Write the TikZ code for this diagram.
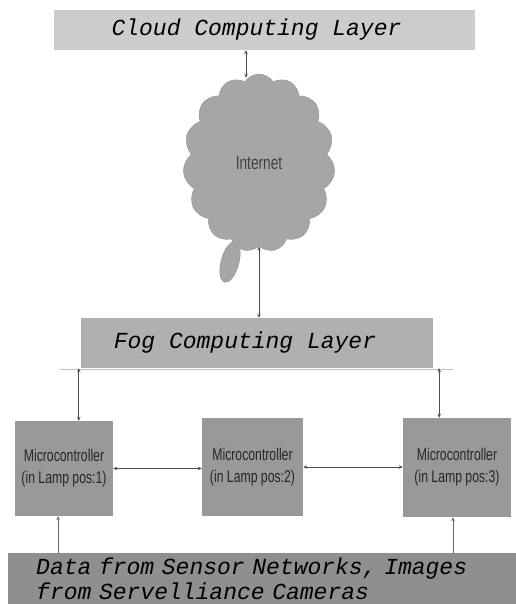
\documentclass[tikz,border=0pt]{standalone}
\usepackage{fontspec}
\setmonofont{Liberation Mono}
\newfontfamily\narrowsans[FakeStretch=0.72]{Liberation Sans}
\usetikzlibrary{shapes.symbols,arrows.meta}
\definecolor{cloudlayergray}{gray}{0.80}
\definecolor{foggray}{gray}{0.69}
\definecolor{mcgray}{gray}{0.60}
\definecolor{datagray}{gray}{0.56}
\definecolor{puffgray}{gray}{0.65}
\definecolor{puffedge}{gray}{0.58}
\def\layerfont{\fontsize{23}{25}\selectfont\ttfamily\itshape}
\def\mcfont{\fontsize{17}{22}\selectfont\narrowsans}
\tikzset{
  layerbox/.style={fill=#1, inner sep=0pt, font=\layerfont},
  mcbox/.style={fill=mcgray, inner sep=0pt, align=center, font=\mcfont, text=black!85},
  link/.style={<->, >={Stealth[length=4pt,width=3.5pt]}, draw=black!70, line width=0.9pt},
  uplink/.style={->, >={Stealth[length=4pt,width=3.5pt]}, draw=black!60, line width=0.9pt}
}
\begin{document}
\begin{tikzpicture}[x=1pt, y=-1pt]
  \useasboundingbox (0,0) rectangle (515,604);
  % layers
  \node[layerbox=cloudlayergray, minimum width=421pt, minimum height=40pt] (cloudlayer) at (264.5,30) {\kern-16pt Cloud Computing Layer};
  \node[layerbox=foggray, minimum width=352pt, minimum height=50pt] (fog) at (257,343) {\kern-24pt Fog Computing Layer};
  \draw[black!25, line width=0.6pt] ([xshift=-21pt,yshift=-1pt]fog.south west) -- ([xshift=20pt,yshift=-1pt]fog.south east);
  % internet cloud
  \filldraw[fill=puffgray, draw=puffedge, rotate around={-15:(230,262)}] (230,262) ellipse [x radius=9, y radius=21];
  \node[cloud, cloud puffs=15, cloud puff arc=115, aspect=0.85, fill=puffgray, draw=puffedge,
        minimum width=152pt, minimum height=178pt, inner sep=0pt, font={\fontsize{19}{20}\selectfont\narrowsans}, text=black!75] (internet) at (259,163) {Internet};
  % microcontrollers
  \node[mcbox, minimum width=98pt, minimum height=95pt] (mc1) at (64,468.5) {Microcontroller\\(in Lamp pos:1)};
  \node[mcbox, minimum width=101pt, minimum height=98pt] (mc2) at (252.5,467) {Microcontroller\\(in Lamp pos:2)};
  \node[mcbox, minimum width=108pt, minimum height=99pt] (mc3) at (457,467.5) {Microcontroller\\(in Lamp pos:3)};
  % sensor data
  \node[layerbox=datagray, anchor=north west, text width=480pt, align=left, inner xsep=28pt, inner ysep=5pt] (data) at (8,553)
    {Data from Sensor Networks, Images\\from Servelliance Cameras};
  % connectors
  \draw[link] ([xshift=-18.5pt]cloudlayer.south) -- ([xshift=-18.5pt,yshift=-4pt]cloudlayer.south |- internet.north);
  \draw[link] (internet.south) -- (internet.south |- fog.north);
  \draw[link] ([xshift=-2pt]fog.south west) -- ([xshift=-2pt]fog.south west |- mc1.north);
  \draw[link] ([xshift=6pt]fog.south east) -- ([xshift=6pt]fog.south east |- mc3.north);
  \draw[link] (mc1.east) -- (mc1.east -| mc2.west);
  \draw[link] (mc2.east) -- (mc2.east -| mc3.west);
  \draw[uplink] ([xshift=-6pt]mc1.south |- data.north) -- ([xshift=-6pt]mc1.south);
  \draw[uplink] ([xshift=-4pt]mc3.south |- data.north) -- ([xshift=-4pt]mc3.south);
\end{tikzpicture}
\end{document}
